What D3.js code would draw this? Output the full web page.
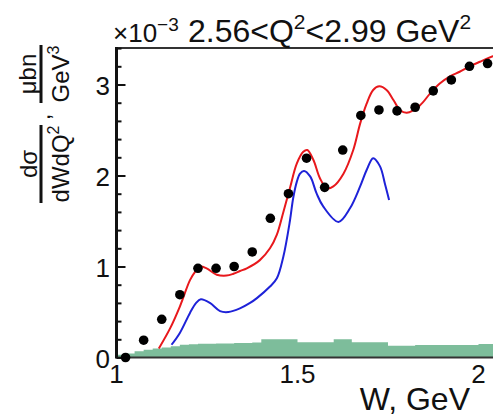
<!DOCTYPE html>
<html>
<head>
<meta charset="utf-8">
<script src="https://cdn.jsdelivr.net/npm/d3@7"></script>
<style>
  html, body { margin: 0; padding: 0; background: #fff; }
  svg { display: block; }
  text { font-family: "Liberation Sans", Arial, Helvetica, sans-serif; fill: #111; }
</style>
</head>
<body>
<svg id="chart" width="493" height="419"></svg>
<script>
// Measured cross section (data points)
const dataW  = [1.025, 1.075, 1.125, 1.175, 1.225, 1.275, 1.325, 1.375, 1.425, 1.475,
                1.525, 1.575, 1.625, 1.675, 1.725, 1.775, 1.825, 1.875, 1.925, 1.975, 2.025];
const dataXs = [0.00, 0.19, 0.42, 0.69, 0.98, 0.98, 1.00, 1.16, 1.53, 1.80,
                2.19, 1.87, 2.28, 2.66, 2.72, 2.71, 2.75, 2.93, 3.05, 3.20, 3.23];

// Full model (red)
const redW  = [1.117, 1.148, 1.175, 1.203, 1.217, 1.231, 1.249, 1.277, 1.304, 1.323, 1.341, 1.360,
               1.396, 1.424, 1.443, 1.461, 1.479, 1.498, 1.516, 1.527, 1.544, 1.562, 1.581, 1.599,
               1.627, 1.654, 1.673, 1.691, 1.709, 1.726, 1.746, 1.765, 1.783, 1.802, 1.838, 1.866,
               1.893, 1.921, 1.948, 1.976, 2.004, 2.040, 2.080, 2.150];
const redXs = [0.10, 0.32, 0.56, 0.85, 0.94, 1.00, 0.98, 0.91, 0.90, 0.92, 0.95, 0.98,
               1.07, 1.20, 1.35, 1.60, 1.86, 2.13, 2.26, 2.28, 2.17, 1.97, 1.86, 1.88,
               2.02, 2.28, 2.57, 2.79, 2.94, 2.98, 2.94, 2.83, 2.72, 2.69, 2.77, 2.90,
               3.01, 3.09, 3.14, 3.20, 3.25, 3.31, 3.36, 3.42];

// Resonant contribution (blue)
const blueW  = [1.152, 1.175, 1.203, 1.220, 1.233, 1.258, 1.286, 1.309, 1.341, 1.369, 1.387,
                1.424, 1.443, 1.461, 1.479, 1.488, 1.498, 1.507, 1.518, 1.535, 1.553, 1.571,
                1.613, 1.645, 1.673, 1.691, 1.709, 1.728, 1.742, 1.753];
const blueXs = [0.14, 0.27, 0.49, 0.60, 0.64, 0.60, 0.51, 0.50, 0.54, 0.60, 0.65,
                0.78, 0.87, 1.11, 1.50, 1.75, 1.93, 2.02, 2.05, 1.99, 1.80, 1.66,
                1.49, 1.64, 1.88, 2.06, 2.19, 2.10, 1.90, 1.73];

// Systematic uncertainty band (histogram, bin width 0.025 GeV)
const sysBinLo = [1.000, 1.025, 1.050, 1.075, 1.100, 1.125, 1.150, 1.175, 1.200, 1.225,
                  1.250, 1.275, 1.300, 1.325, 1.350, 1.375, 1.400, 1.425, 1.450, 1.475,
                  1.500, 1.525, 1.550, 1.575, 1.600, 1.625, 1.650, 1.675, 1.700, 1.725,
                  1.750, 1.775, 1.800, 1.825, 1.850, 1.875, 1.900, 1.925, 1.950, 1.975,
                  2.000, 2.025, 2.050, 2.075, 2.100];
const sysVal   = [0.030, 0.045, 0.070, 0.085, 0.100, 0.110, 0.125, 0.140, 0.145, 0.150,
                  0.150, 0.155, 0.155, 0.160, 0.160, 0.165, 0.200, 0.200, 0.200, 0.200,
                  0.167, 0.167, 0.167, 0.167, 0.200, 0.200, 0.167, 0.167, 0.167, 0.167,
                  0.130, 0.130, 0.130, 0.137, 0.137, 0.137, 0.137, 0.137, 0.137, 0.137,
                  0.148, 0.148, 0.150, 0.150, 0.150];
const sysBinWidth = 0.025;

const yMajor = [0, 1, 2, 3];
const xMajor = [1, 1.5, 2];

const svg = d3.select("#chart");

const x = d3.scaleLinear().domain([1, 2.2]).range([116.5, 116.5 + 1.2 * 362]);
const y = d3.scaleLinear().domain([0, 3.4]).range([357.5, 357.5 - 3.4 * 91]);

// systematic band
const sysPts = sysBinLo.map((w, i) => [w, sysVal[i]]);
sysPts.push([sysBinLo[sysBinLo.length - 1] + sysBinWidth, sysVal[sysVal.length - 1]]);
svg.append("path")
  .datum(sysPts)
  .attr("fill", "#7dbd9b")
  .attr("d", d3.area().curve(d3.curveStepAfter)
    .x(d => x(d[0])).y0(y(0)).y1(d => y(d[1])));

// model curves
const line = d3.line().curve(d3.curveCatmullRom.alpha(0.5)).x(d => x(d[0])).y(d => y(d[1]));
svg.append("path").datum(blueW.map((w, i) => [w, blueXs[i]]))
  .attr("fill", "none").attr("stroke", "#1e22d8").attr("stroke-width", 2).attr("d", line);
svg.append("path").datum(redW.map((w, i) => [w, redXs[i]]))
  .attr("fill", "none").attr("stroke", "#e8181c").attr("stroke-width", 2).attr("d", line);

// frame: left axis, bottom axis, top border
svg.append("line").attr("x1", x(1)).attr("x2", 600).attr("y1", y(3.4)).attr("y2", y(3.4))
  .attr("stroke", "#333").attr("stroke-width", 2);
svg.append("line").attr("x1", x(1)).attr("x2", 600).attr("y1", y(0)).attr("y2", y(0))
  .attr("stroke", "#333").attr("stroke-width", 2);

// y axis with inward ticks
const yAxis = d3.axisRight(y).tickValues(d3.range(0, 3.41, 0.2)).tickSize(5).tickFormat("");
const gy = svg.append("g").attr("transform", `translate(${x(1)},0)`).call(yAxis);
gy.select(".domain").remove();
gy.selectAll(".tick line").attr("stroke", "#111").attr("stroke-width", 2)
  .attr("x2", d => (Math.abs(d - Math.round(d)) < 1e-6 ? 9 : 5));
svg.append("line").attr("x1", x(1)).attr("x2", x(1)).attr("y1", y(3.4) - 1).attr("y2", y(0) + 1)
  .attr("stroke", "#111").attr("stroke-width", 3);

// y tick labels
svg.selectAll(".ylab").data(yMajor).enter().append("text")
  .attr("x", 110).attr("y", d => y(d) + 10)
  .attr("text-anchor", "end").attr("font-size", 26).text(d => d);

// x tick labels
svg.selectAll(".xlab").data(xMajor).enter().append("text")
  .attr("x", d => x(d)).attr("y", 383)
  .attr("text-anchor", "middle").attr("font-size", 26).text(d => d3.format("~g")(d));

// data points
svg.selectAll(".pt").data(dataW).enter().append("circle")
  .attr("cx", d => x(d)).attr("cy", (d, i) => y(dataXs[i])).attr("r", 4.8).attr("fill", "#000");

// x axis title
svg.append("text").attr("x", 470).attr("y", 410).attr("text-anchor", "end")
  .attr("font-size", 32).text("W, GeV");

// exponent and bin title
const exp = svg.append("text").attr("x", 113).attr("y", 42).attr("font-size", 26);
exp.append("tspan").text("×10");
exp.append("tspan").attr("dy", -11).attr("font-size", 19).text("−3");

const title = svg.append("text").attr("x", 188).attr("y", 42).attr("font-size", 32);
title.append("tspan").text("2.56<Q");
title.append("tspan").attr("dy", -13).attr("font-size", 21).text("2");
title.append("tspan").attr("dy", 13).text("<2.99 GeV");
title.append("tspan").attr("dy", -13).attr("font-size", 21).text("2");

// rotated y axis title: dσ/dWdQ², μbn/GeV³
function rot(xp, yp, str, size, sup) {
  const t = svg.append("text").attr("transform", `translate(${xp},${yp}) rotate(-90)`)
    .attr("text-anchor", "middle").attr("font-size", size);
  t.append("tspan").text(str);
  if (sup) t.append("tspan").attr("dy", -10).attr("font-size", 16).text(sup);
  return t;
}
rot(37, 164, "dσ", 24);
rot(69, 164, "dWdQ", 24, "2");
svg.append("rect").attr("x", 39.5).attr("y", 125).attr("width", 3).attr("height", 78).attr("fill", "#111");
rot(36, 74, "μbn", 24);
rot(69, 74, "GeV", 24, "3");
svg.append("rect").attr("x", 39.5).attr("y", 45).attr("width", 3).attr("height", 58).attr("fill", "#111");
rot(50, 117, ",", 24);
</script>
</body>
</html>
